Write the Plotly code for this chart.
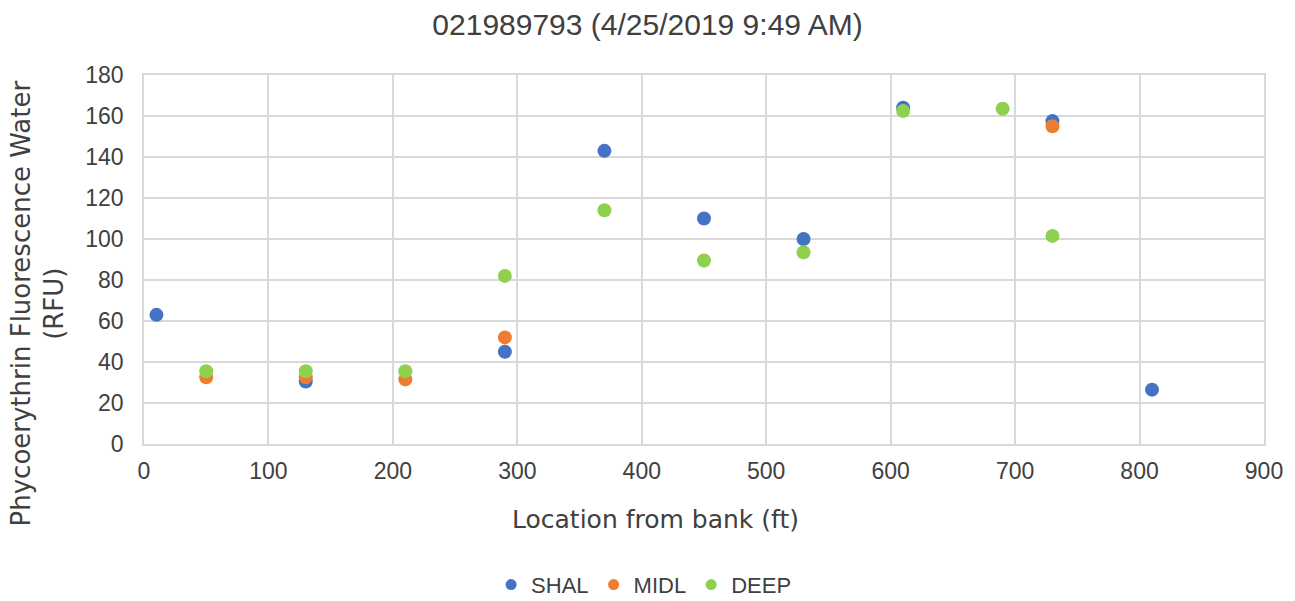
import plotly.graph_objects as go

# Distance from bank (ft) and phycoerythrin readings (RFU) per sampling depth
shal_x = [10, 130, 290, 370, 450, 530, 610, 730, 810]
shal_y = [63, 30.5, 45, 143, 110, 100, 164, 157.5, 26.5]

midl_x = [50, 130, 210, 290, 730]
midl_y = [32.5, 32.5, 31.5, 52, 155]

deep_x = [50, 130, 210, 290, 370, 450, 530, 610, 690, 730]
deep_y = [35.5, 35.5, 35.5, 82, 114, 89.5, 93.5, 162.5, 163.5, 101.5]

series = [
    ("SHAL", shal_x, shal_y, "#4472C4"),
    ("MIDL", midl_x, midl_y, "#ED7D31"),
    ("DEEP", deep_x, deep_y, "#8FD14F"),
]

ARIAL = "Liberation Sans, Arial, sans-serif"
WIDE = "DejaVu Sans, Verdana, sans-serif"
TEXT = "#404040"

fig = go.Figure()
for name, xs, ys, color in series:
    fig.add_trace(go.Scatter(
        x=xs, y=ys, mode="markers", name=name, showlegend=False,
        marker=dict(size=14, color=color),
    ))
    # small legend swatch
    fig.add_trace(go.Scatter(
        x=[None], y=[None], mode="markers", name=name, showlegend=True,
        marker=dict(size=11, color=color),
    ))

grid = "#D9D9D9"
fig.update_layout(
    width=1295, height=601,
    margin=dict(l=144, r=31, t=75, b=157),
    paper_bgcolor="white", plot_bgcolor="white",
    font=dict(family=ARIAL, size=23, color=TEXT),
    title=dict(text="021989793 (4/25/2019 9:49 AM)", x=0.5, xanchor="center",
               y=0.96, yanchor="middle", font=dict(family=ARIAL, size=30, color=TEXT)),
    xaxis=dict(
        range=[0, 900], dtick=100, showgrid=True, gridcolor=grid, gridwidth=1.5,
        showline=True, linecolor=grid, linewidth=1.5, mirror=True,
        zeroline=False, ticks="", ticklabelstandoff=6,
        tickfont=dict(family=ARIAL, size=23, color=TEXT),
    ),
    yaxis=dict(
        range=[0, 180], dtick=20, showgrid=True, gridcolor=grid, gridwidth=1.5,
        showline=True, linecolor=grid, linewidth=1.5, mirror=True,
        zeroline=False, ticks="", ticklabelstandoff=14,
        tickfont=dict(family=ARIAL, size=23, color=TEXT),
    ),
    legend=dict(orientation="h", xref="container", x=0.497, xanchor="center",
                yref="container", y=0.027, yanchor="middle",
                font=dict(family=ARIAL, size=22, color=TEXT), itemwidth=30, tracegroupgap=0),
)

# Axis titles
fig.add_annotation(text="Location from bank (ft)", xref="paper", yref="paper",
                   x=0.457, y=-0.205, xanchor="center", yanchor="middle", showarrow=False,
                   font=dict(family=WIDE, size=25, color=TEXT))
fig.add_annotation(text="Phycoerythrin Fluorescence Water<br>(RFU)", xref="paper", yref="paper",
                   x=-0.0946, y=0.381, xanchor="center", yanchor="middle", showarrow=False,
                   textangle=-90, font=dict(family=WIDE, size=26, color=TEXT))

fig.write_html("out.html")
